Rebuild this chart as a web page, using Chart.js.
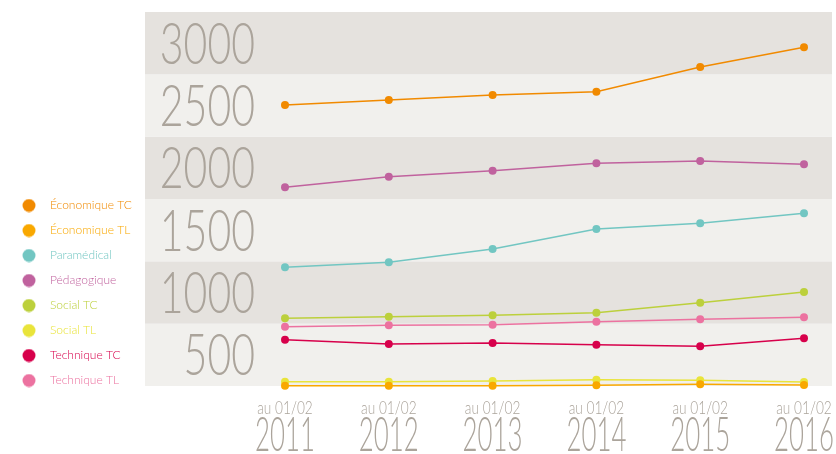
<!DOCTYPE html>
<html>
<head>
<meta charset="utf-8">
<script src="https://cdn.jsdelivr.net/npm/chart.js@4.4.0/dist/chart.umd.min.js"></script>
<style>
  body { margin: 0; background: #fff; }
  #wrap { width: 836px; height: 454px; }
</style>
</head>
<body>
<div id="wrap"><canvas id="myChart" width="836" height="454"></canvas></div>
<script>
// data
const years = ["2011", "2012", "2013", "2014", "2015", "2016"]
const datePrefix = "au 01/02"
const yTicks = [0, 500, 1000, 1500, 2000, 2500, 3000]

const seriesNames = [
  "Économique TC",
  "Économique TL",
  "Paramédical",
  "Pédagogique",
  "Social TC",
  "Social TL",
  "Technique TC",
  "Technique TL",
]
const seriesColors = [
  "#f18a00",
  "#f9a800",
  "#72c6c2",
  "#c0629e",
  "#bcd03c",
  "#e9e43a",
  "#d7004b",
  "#ec72a0",
]
const economiqueTC = [2254, 2294, 2334, 2361, 2559, 2717]
const economiqueTL = [3, 3, 3, 6, 14, 8]
const paramedical = [952, 992, 1099, 1259, 1305, 1385]
const pedagogique = [1594, 1679, 1727, 1786, 1805, 1778]
const socialTC = [543, 556, 567, 588, 668, 754]
const socialTL = [35, 35, 40, 51, 46, 32]
const techniqueTC = [371, 337, 345, 331, 318, 383]
const techniqueTL = [476, 487, 492, 516, 535, 551]
const seriesValues = [
  economiqueTC, economiqueTL, paramedical, pedagogique,
  socialTC, socialTL, techniqueTC, techniqueTL,
]

// styles / layout
const bandDark = "#e5e2de"
const bandLight = "#f1f0ed"
const labelColor = "#aba49b"
const plotLeft = 285 // first point
const bandInset = 140 // bands start this far left of the first point
const padLeft = 19

// legend dot drawn left of the point-style box so text sits further right
function dotImage(color) {
  const c = document.createElement("canvas")
  c.width = 32
  c.height = 14
  const g = c.getContext("2d")
  g.fillStyle = color
  g.beginPath()
  g.arc(7, 7, 6.5, 0, Math.PI * 2)
  g.fill()
  return c
}
const dots = seriesColors.map(dotImage)

// background bands + big y labels, x labels
const bandPlugin = {
  id: "bands",
  beforeDatasetsDraw(chart) {
    const { ctx, chartArea } = chart
    const y = chart.scales.y
    const left = chartArea.left - bandInset
    const right = chart.width - 4
    for (let i = 1; i < y.ticks.length; i++) {
      const v = y.ticks[i].value
      const top = y.getPixelForValue(v)
      const bottom = y.getPixelForValue(y.ticks[i - 1].value)
      ctx.fillStyle = i % 2 === 0 ? bandDark : bandLight
      ctx.fillRect(left, top, right - left, bottom - top)

      ctx.save()
      ctx.translate(chartArea.left - 30, (top + bottom) / 2 + 20.5)
      ctx.scale(0.72, 1)
      ctx.font = "300 57px Lato"
      ctx.textAlign = "right"
      ctx.textBaseline = "alphabetic"
      ctx.fillStyle = labelColor
      ctx.fillText(String(v), 0, 0)
      ctx.restore()
    }
  },
  afterDraw(chart) {
    const { ctx, chartArea } = chart
    const x = chart.scales.x
    x.ticks.forEach((t, i) => {
      const px = x.getPixelForTick(i)
      ctx.save()
      ctx.fillStyle = labelColor
      ctx.textAlign = "center"
      ctx.textBaseline = "alphabetic"
      ctx.translate(px, chartArea.bottom + 28)
      ctx.scale(0.76, 1)
      ctx.font = "300 18px Lato"
      ctx.fillText(datePrefix, 0, 0)
      ctx.restore()

      ctx.save()
      ctx.fillStyle = labelColor
      ctx.textAlign = "center"
      ctx.translate(px, chartArea.bottom + 65)
      ctx.scale(0.55, 1)
      ctx.font = "300 47px Lato"
      ctx.fillText(years[i], 0, 0)
      ctx.restore()
    })
  },
}

function draw() {
  const ctx = document.getElementById("myChart").getContext("2d")
  new Chart(ctx, {
    type: "line",
    data: {
      labels: years,
      datasets: seriesNames.map((name, i) => ({
        label: name,
        data: seriesValues[i],
        borderColor: seriesColors[i],
        backgroundColor: seriesColors[i],
        pointBackgroundColor: seriesColors[i],
        borderWidth: 1.5,
        pointRadius: 4,
        pointBorderWidth: 0,
        tension: 0,
        clip: false,
      })),
    },
    options: {
      responsive: false,
      animation: false,
      layout: { padding: { left: padLeft, right: 32, top: 12, bottom: 54.5 } },
      scales: {
        x: {
          display: true,
          ticks: { display: false },
          grid: { display: false },
          border: { display: false },
          afterFit(s) {
            s.height = 13.5
          },
        },
        y: {
          min: 0,
          max: 3000,
          ticks: { display: false },
          grid: { display: false },
          border: { display: false },
          afterBuildTicks(s) {
            s.ticks = yTicks.map((v) => ({ value: v }))
          },
          afterFit(s) {
            const legendW = s.chart.legend ? s.chart.legend.width : 0
            s.width = plotLeft - padLeft - legendW
          },
        },
      },
      plugins: {
        tooltip: { enabled: false },
        legend: {
          position: "left",
          align: "end",
          labels: {
            usePointStyle: true,
            boxHeight: 12,
            padding: 13,
            font: { family: "Lato", size: 12, weight: 300 },
            generateLabels(chart) {
              return chart.data.datasets.map((ds, i) => ({
                text: ds.label,
                fontColor: ds.borderColor,
                fillStyle: ds.borderColor,
                strokeStyle: ds.borderColor,
                lineWidth: 0,
                pointStyle: dots[i],
                hidden: false,
                datasetIndex: i,
              }))
            },
          },
        },
      },
    },
    plugins: [bandPlugin],
  })
}

document.fonts.load("300 20px Lato").then(draw, draw)
</script>
</body>
</html>
